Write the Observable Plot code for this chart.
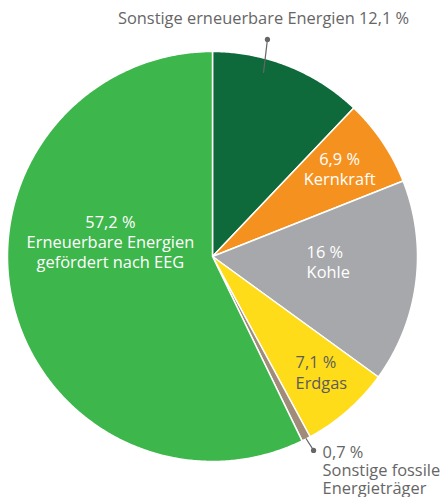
<!DOCTYPE html>
<html><head><meta charset="utf-8">
<script src="https://cdn.jsdelivr.net/npm/d3@7"></script>
<script src="https://cdn.jsdelivr.net/npm/@observablehq/plot@0.6"></script>
<style>body{margin:0;background:#fff}svg{display:block}</style>
</head><body><div id="chart"></div>
<script>
const categories = ["Sonstige erneuerbare Energien", "Kernkraft", "Kohle", "Erdgas", "Sonstige fossile Energieträger", "Erneuerbare Energien gefördert nach EEG"];
const shares = [12.1, 6.9, 16, 7.1, 0.7, 57.2];
const shareLabels = ["12,1 %", "6,9 %", "16 %", "7,1 %", "0,7 %", "57,2 %"];
const labelTexts = ["Sonstige erneuerbare Energien 12,1 %", "6,9 %\nKernkraft", "16 %\nKohle", "7,1 %\nErdgas", "0,7 %\nSonstige fossile\nEnergieträger", "57,2 %\nErneuerbare Energien\ngefördert nach EEG"];
const colors = ["#0e6a3a", "#f5921f", "#a7a8ab", "#fedc1a", "#a18b79", "#3db64b"];

// Build slice outlines (angles from 12 o'clock, clockwise)
const total = d3.sum(shares);
const slices = [];
let acc = 0;
categories.forEach((c, i) => {
  const a0 = acc / total * 2 * Math.PI;
  acc += shares[i];
  const a1 = acc / total * 2 * Math.PI;
  const n = Math.max(2, Math.ceil((a1 - a0) / (Math.PI / 360)));
  slices.push({cat: c, x: 0, y: 0});
  for (let k = 0; k <= n; k++) {
    const a = a0 + (a1 - a0) * k / n;
    slices.push({cat: c, x: Math.sin(a), y: Math.cos(a)});
  }
  slices.push({cat: c, x: 0, y: 0});
});

// label layout (annotation placement)
const layout = [
  {x: 0.249, y: 1.166, anchor: "middle", line: "middle", fill: "#666"},
  {x: 0.62, y: 0.429, anchor: "middle", line: "middle", fill: "#fff"},
  {x: 0.459, y: -0.024, anchor: "start", line: "middle", fill: "#fff"},
  {x: 0.405, y: -0.563, anchor: "start", line: "middle", fill: "#5c5c5c"},
  {x: 0.537, y: -0.919, anchor: "start", line: "top", fill: "#666"},
  {x: -0.498, y: 0.073, anchor: "middle", line: "middle", fill: "#fff"}
];
const labels = labelTexts.map((t, i) => ({text: t, ...layout[i]}));
const leaders = [
  {cat: categories[0], x: 0.249, y: 0.898}, {cat: categories[0], x: 0.268, y: 1.059},
  {cat: categories[4], x: 0.457, y: -0.889}, {cat: categories[4], x: 0.493, y: -0.946}
];
const dots = [leaders[1], leaders[3]];

const chart = Plot.plot({
  width: 441, height: 497,
  marginLeft: 7, marginRight: 24, marginTop: 51, marginBottom: 36,
  x: {domain: [-1, 1], axis: null},
  y: {domain: [-1, 1], axis: null},
  color: {domain: categories, range: colors},
  style: {fontFamily: "'Open Sans', sans-serif", background: "#fff"},
  marks: [
    Plot.line(slices, {x: "x", y: "y", z: "cat", fill: "cat", stroke: "white", strokeWidth: 1.5, strokeLinejoin: "round"}),
    Plot.line(leaders, {x: "x", y: "y", z: "cat", stroke: "#666", strokeWidth: 1.2}),
    Plot.dot(dots, {x: "x", y: "y", r: 2.6, fill: "#666"}),
    ...["middle", "top"].flatMap(la => ["middle", "start"].map(ta =>
      Plot.text(labels.filter(d => d.line === la && d.anchor === ta), {
        x: "x", y: "y", text: "text", fill: d => d.fill, textAnchor: ta, lineAnchor: la,
        fontSize: 16.4, lineHeight: la === "top" ? 1.1 : 1.24
      })))
  ]
});
document.getElementById("chart").appendChild(chart);
</script>
</body></html>
